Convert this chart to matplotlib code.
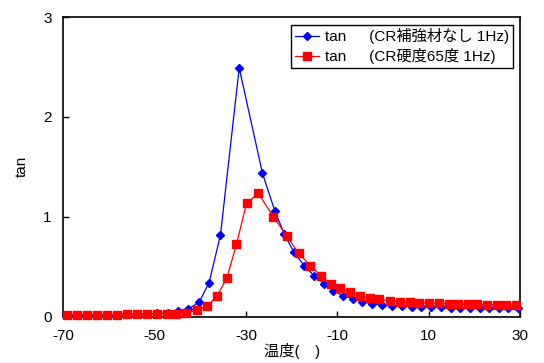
import matplotlib
matplotlib.use("Agg")
import matplotlib.pyplot as plt

plt.rcParams['font.family'] = ['Liberation Sans', 'Noto Sans CJK JP', 'DejaVu Sans']
plt.rcParams['axes.unicode_minus'] = False

# series 1: CR without reinforcement (blue diamonds)
temp_a = [-69.5, -67.3, -65.1, -62.9, -60.7, -58.5, -56.3, -54.1, -51.9, -49.6,
          -47.2, -44.9, -42.7, -40.3, -38.1, -35.6, -31.5, -26.4, -23.7, -21.6,
          -19.5, -17.25, -15.1, -12.9, -10.9, -8.7, -6.5, -4.5, -2.35, -0.16,
          2.0, 4.15, 6.3, 8.4, 10.5, 12.7, 14.8, 16.9, 19.1, 21.2,
          23.3, 25.4, 27.5, 29.6]
tan_a = [0.02, 0.02, 0.02, 0.02, 0.02, 0.022, 0.024, 0.026, 0.03, 0.034,
         0.04, 0.057, 0.077, 0.144, 0.34, 0.82, 2.49, 1.435, 1.06, 0.825,
         0.645, 0.51, 0.41, 0.33, 0.26, 0.21, 0.18, 0.15, 0.13, 0.12,
         0.11, 0.105, 0.10, 0.097, 0.095, 0.095, 0.09, 0.09, 0.09, 0.087,
         0.087, 0.085, 0.085, 0.084]

# series 2: CR hardness 65 (red squares)
temp_b = [-69.3, -67.1, -64.9, -62.7, -60.5, -58.3, -56.1, -53.9, -51.7, -49.5,
          -47.3, -45.4, -43.1, -40.8, -38.5, -36.4, -34.2, -32.1, -29.9, -27.3,
          -24.0, -21.1, -18.5, -15.9, -13.6, -11.4, -9.4, -7.2, -5.05, -2.9,
          -0.8, 1.5, 3.7, 5.9, 8.0, 10.1, 12.3, 14.4, 16.5, 18.6,
          20.7, 22.8, 24.9, 27.0, 29.2]
tan_b = [0.022, 0.022, 0.022, 0.022, 0.022, 0.022, 0.023, 0.024, 0.025, 0.026,
         0.028, 0.03, 0.037, 0.064, 0.107, 0.204, 0.387, 0.725, 1.135, 1.235,
         1.0, 0.81, 0.635, 0.51, 0.41, 0.33, 0.284, 0.244, 0.21, 0.19,
         0.174, 0.16, 0.15, 0.143, 0.14, 0.137, 0.134, 0.13, 0.127, 0.124,
         0.124, 0.12, 0.12, 0.12, 0.117]

label_a = 'tan\u3000\u2002(CR補強材なし 1Hz)'
label_b = 'tan\u3000\u2002(CR硬度65度 1Hz)'

fig = plt.figure(figsize=(5.44, 3.63), dpi=100)
ax = fig.add_axes([0.1167, 0.1275, 0.839, 0.8256])

ax.plot(temp_a, tan_a, color='#0000ff', lw=0.9, marker='D', ms=4.3,
        label=label_a, clip_on=False, zorder=3)
ax.plot(temp_b, tan_b, color='#ff0000', lw=0.9, marker='s', ms=5.8,
        label=label_b, clip_on=False, zorder=4)

ax.set_xlim(-70, 30)
ax.set_ylim(0, 3)
ax.set_xticks([-70, -50, -30, -10, 10, 30])
ax.set_yticks([0, 1, 2, 3])
ax.tick_params(direction='in', length=4, width=1, labelsize=11)
ax.tick_params(axis='x', pad=9)
ax.tick_params(axis='y', pad=8.5)
for s in ax.spines.values():
    s.set_linewidth(1.2)

ax.set_xlabel('温度(\u3000)', fontsize=11, labelpad=0)
ax.set_ylabel('tan', fontsize=11, labelpad=10)

leg = ax.legend(loc='upper right', bbox_to_anchor=(0.985, 0.975), fontsize=11,
                fancybox=False, edgecolor='black', framealpha=1,
                handlelength=1.6, handletextpad=0.4, borderpad=0.25,
                labelspacing=0.25, borderaxespad=0)
leg.get_frame().set_linewidth(1.0)

fig.savefig('out.png', dpi=100)
